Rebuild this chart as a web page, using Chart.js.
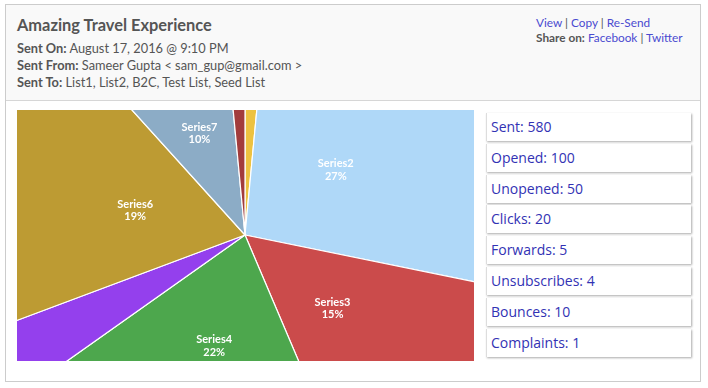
<!DOCTYPE html>
<html>
<head>
<meta charset="utf-8">
<script src="https://cdn.jsdelivr.net/npm/chart.js@4.4.1/dist/chart.umd.min.js"></script>
<style>
  html, body { margin: 0; padding: 0; background: #fff; width: 708px; height: 388px; overflow: hidden; font-family: "Lato", "Open Sans", sans-serif; }
  #outer { position: absolute; left: 5px; top: 4px; width: 694px; height: 376px; border: 1px solid #ccc; background: #fff; }
  #header { position: absolute; left: 0; top: 0; width: 694px; height: 95px; background: #f9f9f9; border-bottom: 1px solid #d6d6d6; }
  #title { position: absolute; left: 11px; top: 10px; font-size: 16.4px; font-weight: 700; color: #555; white-space: nowrap; }
  .meta { position: absolute; left: 11px; font-size: 12.8px; color: #555; white-space: nowrap; }
  .meta b { font-weight: 700; }
  .links { position: absolute; left: 530px; font-size: 11.8px; color: #555; white-space: nowrap; }
  .links a { color: #4a4ad0; text-decoration: none; }
  #pieclip { position: absolute; left: 17px; top: 110px; width: 457px; height: 251px; overflow: hidden; }
  #piebox { position: absolute; left: -72px; top: -175px; width: 600px; height: 600px; }
  .stat { position: absolute; left: 486px; width: 200px; height: 28px; background: #fff; border-left: 1px solid #ddd; box-shadow: 1px 1px 2px #aaa; color: #3232b4; font-family: "Open Sans", sans-serif; font-size: 14px; line-height: 28px; padding-left: 4px; white-space: nowrap; }
</style>
</head>
<body>
<div id="outer">
  <div id="header">
    <div id="title">Amazing Travel Experience</div>
    <div class="meta" style="top:35px"><b>Sent On:</b> August 17, 2016 @ 9:10 PM</div>
    <div class="meta" style="top:52px"><b>Sent From:</b> Sameer Gupta &lt; sam_gup@gmail.com &gt;</div>
    <div class="meta" style="top:69px"><b>Sent To:</b> List1, List2, B2C, Test List, Seed List</div>
    <div class="links" style="top:10px"><a>View</a> | <a>Copy</a> | <a>Re-Send</a></div>
    <div class="links" style="top:25px"><b>Share on:</b> <a>Facebook</a> | <a>Twitter</a></div>
  </div>
</div>
<div id="pieclip"><div id="piebox"><canvas id="c" width="600" height="600"></canvas></div></div>
<div id="stats"></div>
<script>
const seriesNames = ["Series1", "Series2", "Series3", "Series4", "Series5", "Series6", "Series7", "Series8"];
const seriesValues = [1.5, 26.7, 15.4, 21.6, 4.1, 19.0, 10.2, 1.5];
const seriesColors = ["#edc240", "#afd8f8", "#cb4b4b", "#4da74d", "#9440ed", "#bd9b33", "#8cacc6", "#a23c3c"];
const statLabels = ["Sent", "Opened", "Unopened", "Clicks", "Forwards", "Unsubscribes", "Bounces", "Complaints"];
const statValues = [580, 100, 50, 20, 5, 4, 10, 1];

const statsEl = document.getElementById('stats');
statLabels.forEach((l, i) => {
  const d = document.createElement('div');
  d.className = 'stat';
  d.style.top = (113 + i * 30.8) + 'px';
  d.textContent = l + ': ' + statValues[i];
  statsEl.appendChild(d);
});

const labelPlugin = {
  id: 'sliceLabels',
  afterDatasetsDraw(chart) {
    const ctx = chart.ctx;
    const meta = chart.getDatasetMeta(0);
    const data = chart.data.datasets[0].data;
    const total = data.reduce((a, b) => a + b, 0);
    ctx.save();
    ctx.fillStyle = '#fff';
    ctx.textAlign = 'center';
    ctx.textBaseline = 'middle';
    ctx.font = 'bold 11px Lato, "Open Sans", sans-serif';
    meta.data.forEach((arc, i) => {
      const p = data[i] / total * 100;
      if (p < 5) return;
      const { x, y, startAngle, endAngle } = arc.getProps(['x', 'y', 'startAngle', 'endAngle'], true);
      const mid = (startAngle + endAngle) / 2;
      const r = 113;
      const lx = x + Math.cos(mid) * r;
      const ly = y + Math.sin(mid) * r + 2;
      ctx.fillText(chart.data.labels[i], lx, ly - 6.3);
      ctx.fillText(Math.round(p) + '%', lx, ly + 6.3);
    });
    ctx.restore();
  }
};

new Chart(document.getElementById('c'), {
  type: 'pie',
  data: {
    labels: seriesNames,
    datasets: [{
      data: seriesValues,
      backgroundColor: seriesColors,
      borderColor: '#ffffff',
      borderWidth: 1.2
    }]
  },
  options: {
    responsive: false,
    animation: false,
    layout: { padding: 0 },
    plugins: { legend: { display: false }, tooltip: { enabled: false } }
  },
  plugins: [labelPlugin]
});
</script>
</body>
</html>
